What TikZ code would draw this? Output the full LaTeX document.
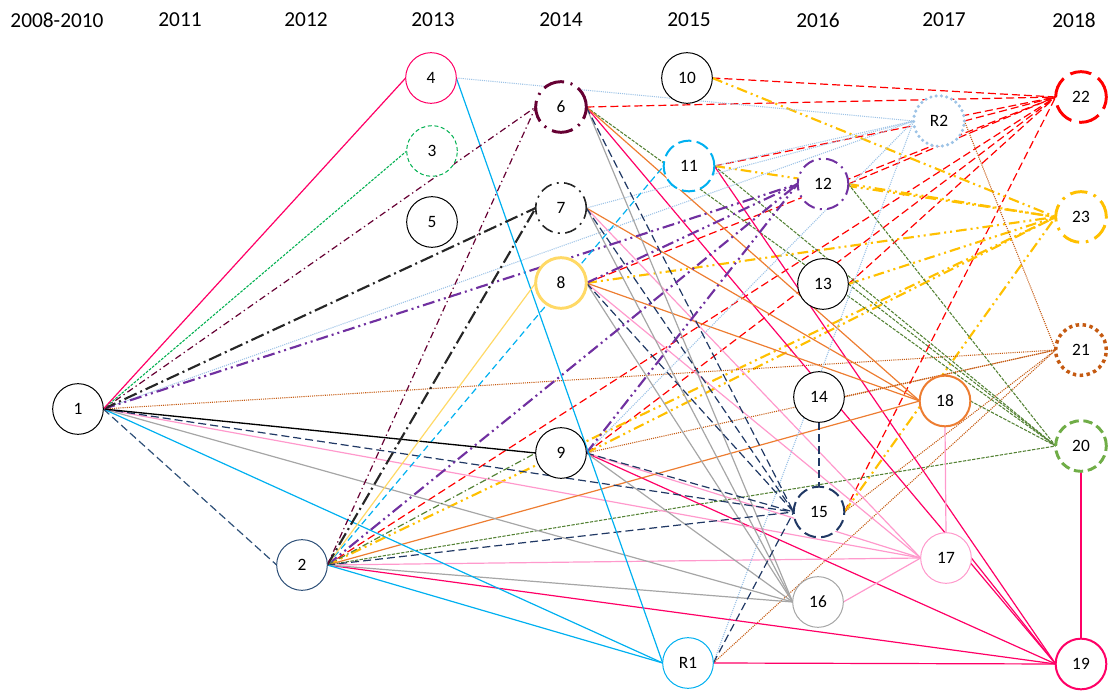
\documentclass[tikz,border=0pt]{standalone}
\usepackage{fontspec}
\setmainfont{Carlito}
\usetikzlibrary{backgrounds}
\definecolor{crim}{HTML}{FF0066}
\definecolor{cyanc}{HTML}{00B0F0}
\definecolor{greenc}{HTML}{00B050}
\definecolor{maroonc}{HTML}{660033}
\definecolor{dgray}{HTML}{262626}
\definecolor{yellowc}{HTML}{FFD966}
\definecolor{purplec}{HTML}{7030A0}
\definecolor{navyc}{HTML}{203864}
\definecolor{bluec}{HTML}{2E5078}
\definecolor{grayc}{HTML}{A6A6A6}
\definecolor{pinkc}{HTML}{FF99CC}
\definecolor{orangec}{HTML}{ED7D31}
\definecolor{olivec}{HTML}{548235}
\definecolor{greenl}{HTML}{70AD47}
\definecolor{brownc}{HTML}{C55A11}
\definecolor{redc}{HTML}{FF0000}
\definecolor{goldc}{HTML}{FFC000}
\definecolor{lbluec}{HTML}{9DC3E6}
\begin{document}
\begin{tikzpicture}[x=0.75pt, y=-0.75pt,
	paper/.style={circle, draw, fill=white, minimum size=38pt, inner sep=0pt, outer sep=0pt, line width=0.75pt, font=\fontsize{13}{15}\selectfont},
	year/.style={font=\fontsize{16}{19}\selectfont},
	redln/.style={redc, line width=0.9pt, dash pattern=on 6pt off 3pt},
	goldln/.style={goldc, line width=1.6pt, dash pattern=on 8pt off 3pt on 1.5pt off 3pt on 1.5pt off 3pt},
	brownln/.style={brownc, line width=0.8pt, dash pattern=on 0.8pt off 0.8pt},
	oliveln/.style={olivec, line width=0.8pt, dash pattern=on 2.5pt off 1pt},
	crimln/.style={crim, line width=0.9pt},
	pinkln/.style={pinkc, line width=0.9pt},
	orangeln/.style={orangec, line width=0.9pt},
	grayln/.style={grayc, line width=0.9pt},
	navyln/.style={navyc, line width=0.9pt, dash pattern=on 6pt off 3pt},
	lblueln/.style={lbluec, line width=0.8pt, dash pattern=on 0.8pt off 0.8pt},
	purpleln/.style={purplec, line width=1.6pt, dash pattern=on 9pt off 3pt on 1.5pt off 3pt on 1.5pt off 3pt},
	cyandln/.style={cyanc, line width=0.9pt, dash pattern=on 5pt off 3pt},
	cyanln/.style={cyanc, line width=0.9pt},
	olivedd/.style={olivec, line width=0.9pt, dash pattern=on 5pt off 2pt on 1pt off 2pt},
	blackdd/.style={dgray, line width=1.6pt, dash pattern=on 10pt off 3pt on 1.5pt off 3pt},
	maroonln/.style={maroonc, line width=0.9pt, dash pattern=on 5pt off 2.5pt on 1pt off 2.5pt}]
\useasboundingbox (0,0) rectangle (1108,691);

% years
\foreach \x/\t [count=\i] in {57/2008-2010, 180/2011, 306/2012, 433/2013, 561/2014, 689/2015, 818/2016, 944/2017, 1074/2018}
	\node[year] (y\i) at (\x,20) {\t};

% papers
\foreach \n/\x/\y in {1/78/409, 5/432/222, 9/561/453, 10/687/78, 13/823/284, 14/819/397}
	\node[paper] (n\n) at (\x,\y) {\n};
\node[paper, draw=bluec] (n2) at (302,565) {2};
\node[paper, draw=greenc, dash pattern=on 3pt off 2pt] (n3) at (432,151) {3};
\node[paper, draw=crim] (n4) at (431,78) {4};
\node[paper, draw=maroonc, line width=2.2pt, dash pattern=on 16pt off 5pt on 1.5pt off 5pt] (n6) at (561,107) {6};
\node[paper, draw=dgray, line width=1.2pt, dash pattern=on 9pt off 4pt on 1.5pt off 4pt] (n7) at (561,208) {7};
\node[paper, draw=yellowc, line width=2.2pt] (n8) at (561,283) {8};
\node[paper, draw=cyanc, line width=1.5pt, dash pattern=on 10pt off 4pt] (n11) at (689,166) {11};
\node[paper, draw=purplec, line width=1.5pt, dash pattern=on 9pt off 4pt on 1.5pt off 4pt] (n12) at (823,184) {12};
\node[paper, draw=navyc, line width=1.5pt, dash pattern=on 9pt off 4pt] (n15) at (819,512) {15};
\node[paper, draw=grayc] (n16) at (818,602) {16};
\node[paper, draw=pinkc] (n17) at (946,558) {17};
\node[paper, draw=orangec, line width=1.5pt] (n18) at (945,401) {18};
\node[paper, draw=crim, line width=1.5pt] (n19) at (1081,664) {19};
\node[paper, draw=greenl, line width=2.2pt, dash pattern=on 7pt off 3.5pt] (n20) at (1081,446) {20};
\node[paper, draw=brownc, line width=2.6pt, dash pattern=on 2.6pt off 2.6pt] (n21) at (1081,350) {21};
\node[paper, draw=redc, line width=2.2pt, dash pattern=on 16pt off 6pt] (n22) at (1081,97) {22};
\node[paper, draw=goldc, line width=2.2pt, dash pattern=on 13pt off 5pt on 2pt off 5pt] (n23) at (1081,217) {23};
\node[paper, draw=cyanc] (r1) at (688,663) {R1};
\node[paper, draw=lbluec, line width=2.6pt, dash pattern=on 0pt off 4pt, line cap=round] (r2) at (939,121) {R2};

\begin{scope}[on background layer]
	%into 2018
	\foreach \s in {n2,n6,n8,n9,n10,n11,n12,n13,n15,r2}
		\draw[redln] (\s.east) -- (n22.west);
	\foreach \s in {n2,n8,n9,n10,n11,n12,n13,n15}
		\draw[goldln] (\s.east) -- (n23.west);
	\foreach \s in {n1,n9,n14,n15,r1,r2}
		\draw[brownln] (\s.east) -- (n21.west);
	\foreach \s in {n2,n6,n11,n12,n13,n18}
		\draw[oliveln] (\s.east) -- (n20.west);
	\foreach \s in {n2,n6,n9,n11,n17,r1}
		\draw[crimln] (\s.east) -- (n19.west);
	\draw[crimln] (n20.south) -- (n19.north);
	
	%into 2017 and 2016
	\foreach \s in {n1,n2,n7,n8,n9,n16}
		\draw[pinkln] (\s.east) -- (n17.west);
	\draw[pinkln] (n18.south) -- (n17.north);
	\foreach \s in {n2,n6,n7,n8}
		\draw[orangeln] (\s.east) -- (n18.west);
	\foreach \s in {n1,n4,n7,n9,n11,r1}
		\draw[lblueln] (\s.east) -- (r2.west);
	\foreach \s in {n1,n2,n6,n7,n8,n9}
		\draw[grayln] (\s.east) -- (n16.west);
	\foreach \s in {n1,n2,n6,n7,n8,n9,r1}
		\draw[navyln] (\s.east) -- (n15.west);
	\draw[navyln] (n14.south) -- (n15.north);
	\foreach \s in {n1,n2,n8,n9}
		\draw[purpleln] (\s.east) -- (n12.west);
	
	%into 2015 and before
	\draw[cyandln] (n2.east) -- (n11.west);
	\foreach \s in {n1,n2,n4}
		\draw[cyanln] (\s.east) -- (r1.west);
	\draw[black, line width=1pt] (n1.east) -- (n9.west);
	\draw[olivedd] (n2.east) -- (n9.west);
	\draw[yellowc, line width=0.9pt] (n2.east) -- (n8.west);
	\draw[blackdd] (n1.east) -- (n7.west);
	\draw[blackdd] (n2.east) -- (n7.west);
	\draw[maroonln] (n1.east) -- (n6.west);
	\draw[maroonln] (n2.east) -- (n6.west);
	\draw[greenc, line width=0.8pt, dash pattern=on 2pt off 1pt] (n1.east) -- (n3.west);
	\draw[crimln] (n1.east) -- (n4.west);
	\draw[bluec, line width=0.9pt, dash pattern=on 6pt off 3pt] (n1.east) -- (n2.west);
\end{scope}
\end{tikzpicture}
\end{document}
